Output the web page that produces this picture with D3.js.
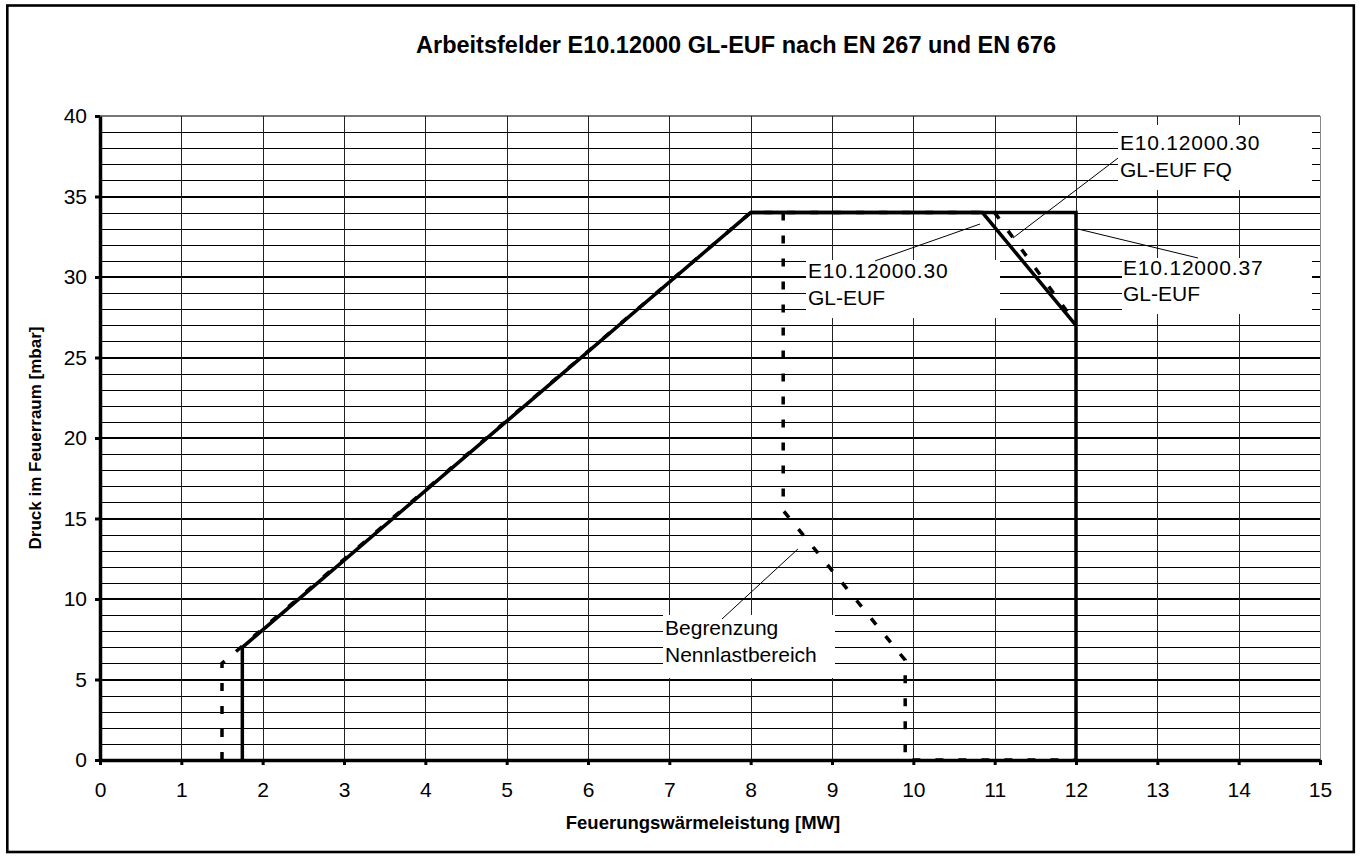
<!DOCTYPE html>
<html>
<head>
<meta charset="utf-8">
<script src="https://cdn.jsdelivr.net/npm/d3@7"></script>
<style>
  html, body { margin: 0; padding: 0; background: #fff; }
  svg { display: block; font-family: "Liberation Sans", Arial, sans-serif; }
</style>
</head>
<body>
<svg id="chart" width="1361" height="859"></svg>
<script>
// ---------- data ----------
const title = "Arbeitsfelder E10.12000 GL-EUF nach EN 267 und EN 676";
const xTitle = "Feuerungswärmeleistung [MW]";
const yTitle = "Druck im Feuerraum [mbar]";
const xTicks = [0,1,2,3,4,5,6,7,8,9,10,11,12,13,14,15];
const yTicks = [0,5,10,15,20,25,30,35,40];

// E10.12000.30 GL-EUF (solid)
const solid30 = [[1.75,0],[1.75,7],[8,34],[10.85,34],[12,27]];
// E10.12000.37 GL-EUF (solid)
const solid37 = [[8,34],[12,34],[12,0]];
// E10.12000.30 GL-EUF FQ (dashed)
const dashedFQ = [[1.5,0],[1.5,6],[8,34],[11.0,34],[12,27.1]];
// Begrenzung Nennlastbereich (dashed)
const dashedLimit = [[8.4,34],[8.4,15.5],[9.9,6.2],[9.9,0],[12,0]];

// annotation texts
const annLines1 = ["E10.12000.30","GL-EUF FQ"];
const annLines2 = ["E10.12000.30","GL-EUF"];
const annLines3 = ["E10.12000.37","GL-EUF"];
const annLines4 = ["Begrenzung","Nennlastbereich"];

// ---------- layout ----------
const svg = d3.select("#chart");
const x = d3.scaleLinear().domain([0,15]).range([100,1320]);
const y = d3.scaleLinear().domain([0,40]).range([760,116]);

// outer frame
svg.append("rect").attr("x",7.3).attr("y",5.5).attr("width",1346.5).attr("height",846.5)
  .attr("fill","#fff").attr("stroke","#000").attr("stroke-width",2.6);

// gridlines
const g = svg.append("g").attr("shape-rendering","crispEdges");
g.selectAll("line.hy").data(d3.range(1,41)).join("line")
  .attr("x1",x(0)).attr("x2",x(15))
  .attr("y1",d=>Math.round(y(d))).attr("y2",d=>Math.round(y(d)))
  .attr("stroke", d=> d===40 ? "#777" : "#000")
  .attr("stroke-width", d => d%5===0 ? 2 : 1);
g.selectAll("line.vx").data(d3.range(1,16)).join("line")
  .attr("y1",y(0)).attr("y2",y(40))
  .attr("x1",d=>Math.round(x(d))+0.5).attr("x2",d=>Math.round(x(d))+0.5)
  .attr("stroke", d=> d===15 ? "#888" : "#222").attr("stroke-width",1);

// annotation boxes (white, covering gridlines), positions in data units
const annotations = [
  {box:[12.517,14.902,39.44,35.40], tx:12.54, ty:[37.89,36.21], lines:annLines1, leader:[[11.225,32.42],[12.517,37.39]]},
  {box:[8.68,11.066,31.06,27.45], tx:8.705, ty:[29.94,28.26], lines:annLines2, leader:[[9.53,31.0],[10.82,33.29]]},
  {box:[12.566,14.902,31.18,27.70], tx:12.578, ty:[30.12,28.51], lines:annLines3, leader:[[12.025,32.98],[13.5,31.18]]},
  {box:[6.922,9.037,9.006,5.093], tx:6.947, ty:[7.76,6.087], lines:annLines4, leader:[[7.648,8.76],[8.582,13.11]]}
];
svg.append("g").selectAll("rect").data(annotations).join("rect")
  .attr("x",d=>x(d.box[0])).attr("width",d=>x(d.box[1])-x(d.box[0]))
  .attr("y",d=>y(d.box[2])).attr("height",d=>y(d.box[3])-y(d.box[2]))
  .attr("fill","#fff");

// leaders
svg.append("g").selectAll("line").data(annotations).join("line")
  .attr("x1",d=>x(d.leader[0][0])).attr("y1",d=>y(d.leader[0][1]))
  .attr("x2",d=>x(d.leader[1][0])).attr("y2",d=>y(d.leader[1][1]))
  .attr("stroke","#000").attr("stroke-width",1);

// series
const line = d3.line().x(d=>x(d[0])).y(d=>y(d[1]));
const sg = svg.append("g").attr("fill","none").attr("stroke","#000");
sg.append("path").attr("d",line(dashedFQ)).attr("stroke-width",3.5).attr("stroke-dasharray","8,15");
sg.append("path").attr("d",line(dashedLimit)).attr("stroke-width",3.5).attr("stroke-dasharray","8,15");
sg.append("path").attr("d",line(solid30)).attr("stroke-width",3.5).attr("stroke-linejoin","miter");
sg.append("path").attr("d",line(solid37)).attr("stroke-width",3.5).attr("stroke-linejoin","miter");

// axes
const xAxis = d3.axisBottom(x).tickValues(xTicks).tickSize(5).tickSizeOuter(0).tickPadding(17).tickFormat(d3.format("d"));
const yAxis = d3.axisLeft(y).tickValues(yTicks).tickSize(5).tickSizeOuter(0).tickPadding(8).tickFormat(d3.format("d"));
const gx = svg.append("g").attr("transform",`translate(0,${y(0)})`).call(xAxis);
const gy = svg.append("g").attr("transform",`translate(${x(0)},0)`).call(yAxis);
[gx,gy].forEach(a=>{
  a.attr("font-size",21).attr("font-family","'Liberation Sans', Arial, sans-serif");
  a.select(".domain").attr("stroke","#000").attr("stroke-width",3.5);
  a.selectAll(".tick line").attr("stroke","#000").attr("stroke-width",3);
  a.selectAll(".tick text").attr("fill","#000");
});

// annotation texts
const at = svg.append("g").attr("font-size",21).attr("fill","#000");
annotations.forEach(a=>{
  a.lines.forEach((t,i)=>{
    at.append("text").attr("x",x(a.tx)).attr("y",y(a.ty[i]))
      .attr("letter-spacing", /^E10/.test(t) ? 0.8 : 0).text(t);
  });
});

// titles
svg.append("text").attr("x",736).attr("y",53).attr("text-anchor","middle")
  .attr("font-size",23.5).attr("font-weight","bold").text(title);
svg.append("text").attr("x",(x(0)+x(15))/2 - 7).attr("y",829).attr("text-anchor","middle")
  .attr("font-size",18.5).attr("font-weight","bold").text(xTitle);
svg.append("text").attr("transform",`translate(41,${(y(0)+y(40))/2}) rotate(-90)`)
  .attr("text-anchor","middle").attr("font-size",17).attr("font-weight","bold").text(yTitle);
</script>
</body>
</html>
